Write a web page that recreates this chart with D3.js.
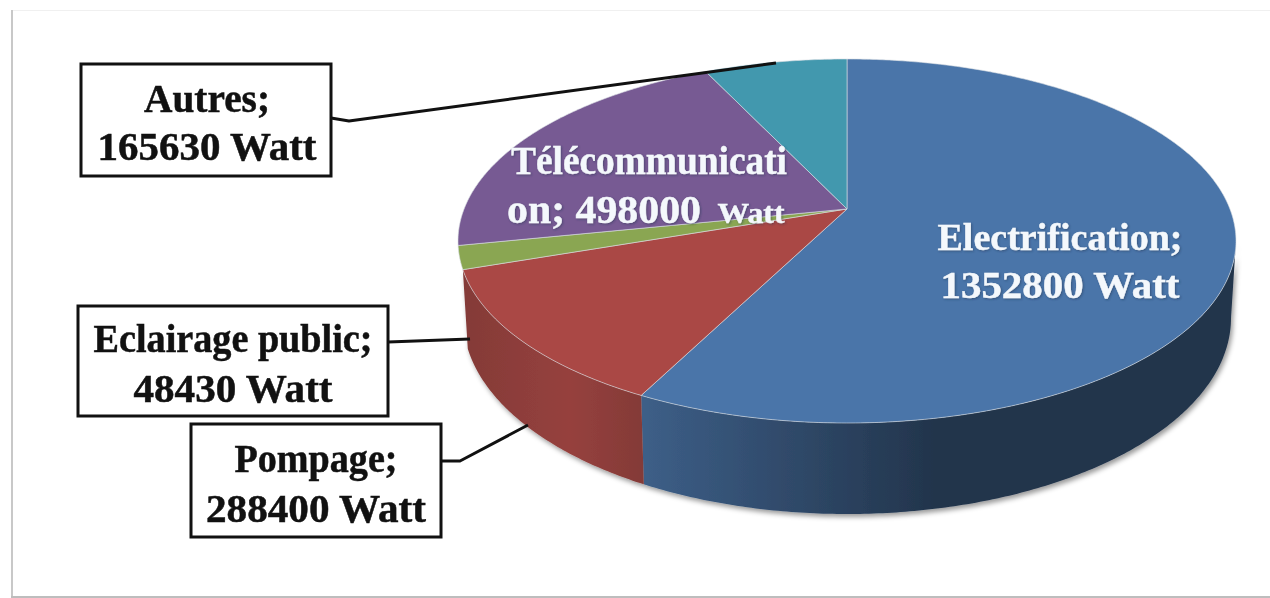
<!DOCTYPE html>
<html><head><meta charset="utf-8">
<script src="https://cdn.jsdelivr.net/npm/d3@7"></script>
<style>html,body{margin:0;padding:0;background:#fff;overflow:hidden}svg{display:block;filter:blur(0.7px)}text{font-family:"Liberation Serif",serif;font-weight:bold}</style>
</head><body><svg id="c" width="1270" height="598"></svg>
<script>
const categories=["Electrification","Pompage","Eclairage public","Télécommunication","Autres"];
const values=[1352800,288400,48430,498000,165630];
const unit="Watt";
const topColors=["#4a75a9","#aa4845","#8aa652","#775a93","#4298ae"];
const sideStart=["#3d5f88","#96413e","#6e8541","#5f4876","#357a8b"];
const sideEnd=["#22344b","#843a37","#6e8541","#5f4876","#357a8b"];

const svg=d3.select("#c");
const defs=svg.append("defs");
const shadow=defs.append("filter").attr("id","sh").attr("x","-5%").attr("y","-5%").attr("width","110%").attr("height","115%");
shadow.append("feDropShadow").attr("dx",2).attr("dy",3).attr("stdDeviation",2.5).attr("flood-color","#000").attr("flood-opacity",.4);
const textShadow=defs.append("filter").attr("id","tsh").attr("x","-5%").attr("y","-20%").attr("width","110%").attr("height","140%");
textShadow.append("feDropShadow").attr("dx",1).attr("dy",1).attr("stdDeviation",1).attr("flood-color","#1a3050").attr("flood-opacity",.5);

// frame
svg.append("rect").attr("x",12).attr("y",10).attr("width",1260).attr("height",1).attr("fill","#f0f0f0");
svg.append("rect").attr("x",11).attr("y",10).attr("width",2).attr("height",587).attr("fill","#c8c8c8");
svg.append("rect").attr("x",11).attr("y",596).attr("width",1260).attr("height",2).attr("fill","#bdbdbd");

// perspective: unit circle → unit ellipse with the pie centre displaced towards the back
const c=-0.176;
const project=t=>{const x=Math.sin(t),y=-Math.cos(t),k=1+c*y;return [x*Math.sqrt(1-c*c)/k,(y+c)/k];};
const topX=d3.scaleLinear().domain([-1,1]).range([458,1236]);
const topY=d3.scaleLinear().domain([-1,1]).range([59,423]);
const botX=d3.scaleLinear().domain([-1,1]).range([463,1231]);
const botY=d3.scaleLinear().domain([-1,1]).range([122,514]);
const onTop=t=>{const p=project(t);return [topX(p[0]),topY(p[1])];};
const onBot=t=>{const p=project(t);return [botX(p[0]),botY(p[1])];};
const apex=[topX(project(0)[0]),topY(c)];
const line=d3.line();
const pie=d3.pie().sort(null).value(d=>d).startAngle(0).endAngle(2*Math.PI);
const arcs=pie(values);
const sweep=(a,b)=>{const n=Math.max(2,Math.ceil((b-a)/0.01));return d3.range(n+1).map(i=>a+(b-a)*i/n);};

// visible rim: from the right-hand extreme of the ellipse to the end of the Pompage slice
const frontFrom=Math.acos(c), frontTo=arcs[1].endAngle;
const pie3d=svg.append("g");
const sideG=pie3d.append("g").attr("filter","url(#sh)");
arcs.forEach((d,i)=>{
  const a=Math.max(d.startAngle,frontFrom),b=Math.min(d.endAngle,frontTo);
  if(b<=a)return;
  const ts=sweep(a,b);
  const id="g"+i;
  const x0=d3.min(ts,t=>onTop(t)[0]),x1=d3.max(ts,t=>onTop(t)[0]);
  const g=defs.append("linearGradient").attr("id",id).attr("gradientUnits","userSpaceOnUse")
    .attr("x1",x0).attr("x2",x1).attr("y1",0).attr("y2",0);
  if(i===0){
    g.append("stop").attr("offset",0).attr("stop-color",sideStart[i]);
    g.append("stop").attr("offset",.5).attr("stop-color",sideEnd[i]);
    g.append("stop").attr("offset",1).attr("stop-color",sideEnd[i]);
  }else{
    g.append("stop").attr("offset",0).attr("stop-color",sideEnd[i]);
    g.append("stop").attr("offset",.6).attr("stop-color",sideStart[i]);
    g.append("stop").attr("offset",1).attr("stop-color",sideEnd[i]);
  }
  const pts=ts.map(onTop).concat(ts.slice().reverse().map(onBot));
  sideG.append("path").attr("d",line(pts)+"Z").attr("fill",`url(#${id})`);
});
arcs.forEach((d,i)=>{
  const pts=[apex].concat(sweep(d.startAngle,d.endAngle).map(onTop));
  pie3d.append("path").attr("d",line(pts)+"Z").attr("fill",topColors[i])
    .attr("stroke","#d9dde3").attr("stroke-opacity",.6).attr("stroke-width",1).attr("stroke-linejoin","round");
});

// leader lines and call-out boxes
const leaders=svg.append("g").attr("fill","none").attr("stroke","#111").attr("stroke-width",3).attr("stroke-linejoin","round");
const boxes=svg.append("g");
function callout(box,cx,rows,leader,fs){
  leaders.append("path").attr("d",line(leader));
  boxes.append("rect").attr("x",box[0]).attr("y",box[1]).attr("width",box[2]-box[0]).attr("height",box[3]-box[1])
    .attr("fill","#fff").attr("stroke","#111").attr("stroke-width",3);
  rows.forEach(r=>boxes.append("text").attr("x",cx).attr("y",r[1]).attr("text-anchor","middle")
    .attr("font-size",fs).attr("fill","#111").attr("stroke","#111").attr("stroke-width",.5)
    .attr("textLength",r[2]).attr("lengthAdjust","spacingAndGlyphs").text(r[0]));
}
const head=i=>categories[i]+";";
const val=i=>values[i]+" "+unit;
callout([81,64,331,176],207,[[head(4),112,126],[val(4),160,219]],[[331,118],[349,121],[776,63]],40);
callout([78,306,388,416],233,[[head(2),352,279],[val(2),402,199]],[[388,342],[470,339]],40);
callout([191,424,441,537],316,[[head(1),472,163],[val(1),522,220]],[[441,461],[460,461],[528,425]],40);

// labels inside the pie
const inner=svg.append("g").attr("fill","#f4f8fc").attr("stroke","#f4f8fc").attr("stroke-width",.4).attr("filter","url(#tsh)").attr("text-anchor","middle");
const put=(x,y,w,s,fs)=>inner.append("text").attr("x",x).attr("y",y).attr("font-size",fs).attr("textLength",w).attr("lengthAdjust","spacingAndGlyphs").text(s);
put(1060,250,245,head(0),38);
put(1060,298,239,val(0),38);
const tel=categories[3];
put(649,174,276,tel.slice(0,15),39);
put(604,223,194,tel.slice(15)+"; "+values[3],39);
put(751,223,67,unit,30);
</script></body></html>
